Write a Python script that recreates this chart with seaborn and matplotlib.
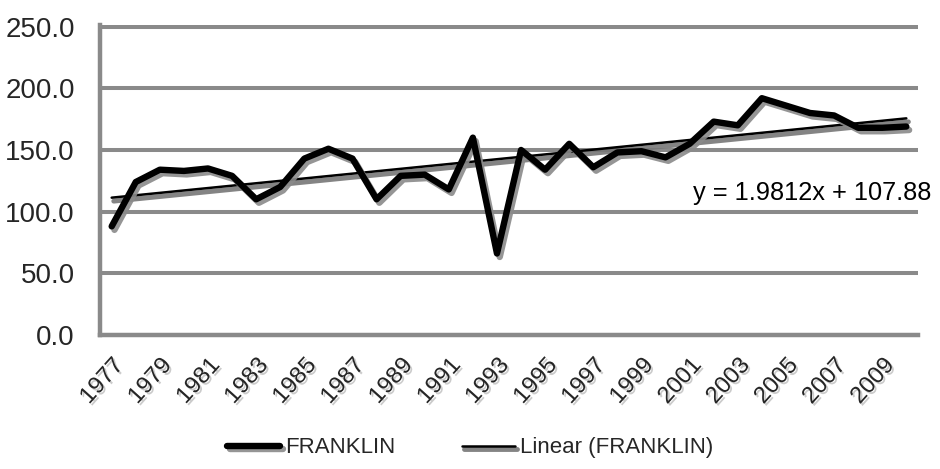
import numpy as np
import pandas as pd
import matplotlib
matplotlib.use('Agg')
import matplotlib.pyplot as plt
import matplotlib.patheffects as pe
import seaborn as sns

# ---- data ----
years = list(range(1977, 2011))
franklin = [88, 124, 134, 133, 135, 129, 110, 120, 143, 151, 143, 110, 129, 130,
            118, 160, 66, 150, 134, 155, 136, 148, 149, 144, 155, 173, 170, 192,
            186, 180, 178, 168, 168, 169]
y_ticks = [0, 50, 100, 150, 200, 250]
series_label = 'FRANKLIN'
trend_label = 'Linear (FRANKLIN)'
equation = 'y = 1.9812x + 107.88'

sns.set_theme(style='white')
plt.rcParams['font.family'] = ['Liberation Sans', 'DejaVu Sans']

df = pd.DataFrame({'pos': np.arange(len(years)), 'value': franklin})

grid_c = '#8a8a8a'
text_shadow = [pe.SimplePatchShadow(offset=(1.5, -1.5), shadow_rgbFace='#999999', alpha=0.5),
               pe.Normal()]

fig = plt.figure(figsize=(9.4, 4.69), dpi=100)
ax = fig.add_axes([0.106, 0.286, 0.871, 0.661])

sns.regplot(data=df, x='pos', y='value', scatter=False, ci=None, ax=ax,
            color='black',
            line_kws=dict(lw=1.8,
                          path_effects=[pe.SimpleLineShadow(offset=(1.5, -2.5), shadow_color='#777777',
                                                            alpha=0.9, rho=1.0, linewidth=3.5),
                                        pe.Normal()]))
trend_line = ax.lines[-1]
trend_line.set_label(trend_label)
sns.lineplot(data=df, x='pos', y='value', color='black', lw=4.6, ax=ax,
             label=series_label,
             path_effects=[pe.SimpleLineShadow(offset=(2, -2.5), shadow_color='#8a8a8a',
                                               alpha=0.9, rho=1.0),
                           pe.Normal()])
main_line = ax.lines[-1]

ax.set_xlim(-0.5, len(years) - 0.5)
ax.set_ylim(0, 251.5)
ax.set_yticks(y_ticks)
ax.set_yticklabels([f'{v:.1f}' for v in y_ticks], fontsize=20)
ax.set_xticks(np.arange(0, len(years), 2))
ax.set_xticklabels([str(y) for y in years[::2]], rotation=48, fontsize=17,
                   ha='right', rotation_mode='anchor')
ax.set_xticks(np.arange(-0.5, len(years)), minor=True)
ax.tick_params(axis='x', which='major', length=0, pad=14)
ax.tick_params(axis='x', which='minor', length=6, width=4, color=grid_c, direction='out')
ax.tick_params(axis='y', length=7, width=2.9, color=grid_c, direction='out', pad=11)
for lab in ax.get_xticklabels():
    lab.set_path_effects(text_shadow)
ax.grid(axis='y', color=grid_c, lw=2.9)
ax.grid(axis='x', visible=False)
ax.set_axisbelow(True)
for s in ['top', 'right']:
    ax.spines[s].set_visible(False)
for s in ['left', 'bottom']:
    ax.spines[s].set_color(grid_c)
    ax.spines[s].set_linewidth(3.2)
ax.set_xlabel('')
ax.set_ylabel('')
if ax.get_legend() is not None:
    ax.get_legend().remove()

fig.legend(handles=[main_line, trend_line],
           labels=[series_label, trend_label],
           loc='center', bbox_to_anchor=(0.5, 0.045), ncol=2, frameon=False,
           fontsize=16, handlelength=2.4, columnspacing=3, handletextpad=0.2)

fig.text(0.737, 0.588, equation, fontsize=18.3, va='center', ha='left', color='black')

fig.savefig('out.png', dpi=100)
